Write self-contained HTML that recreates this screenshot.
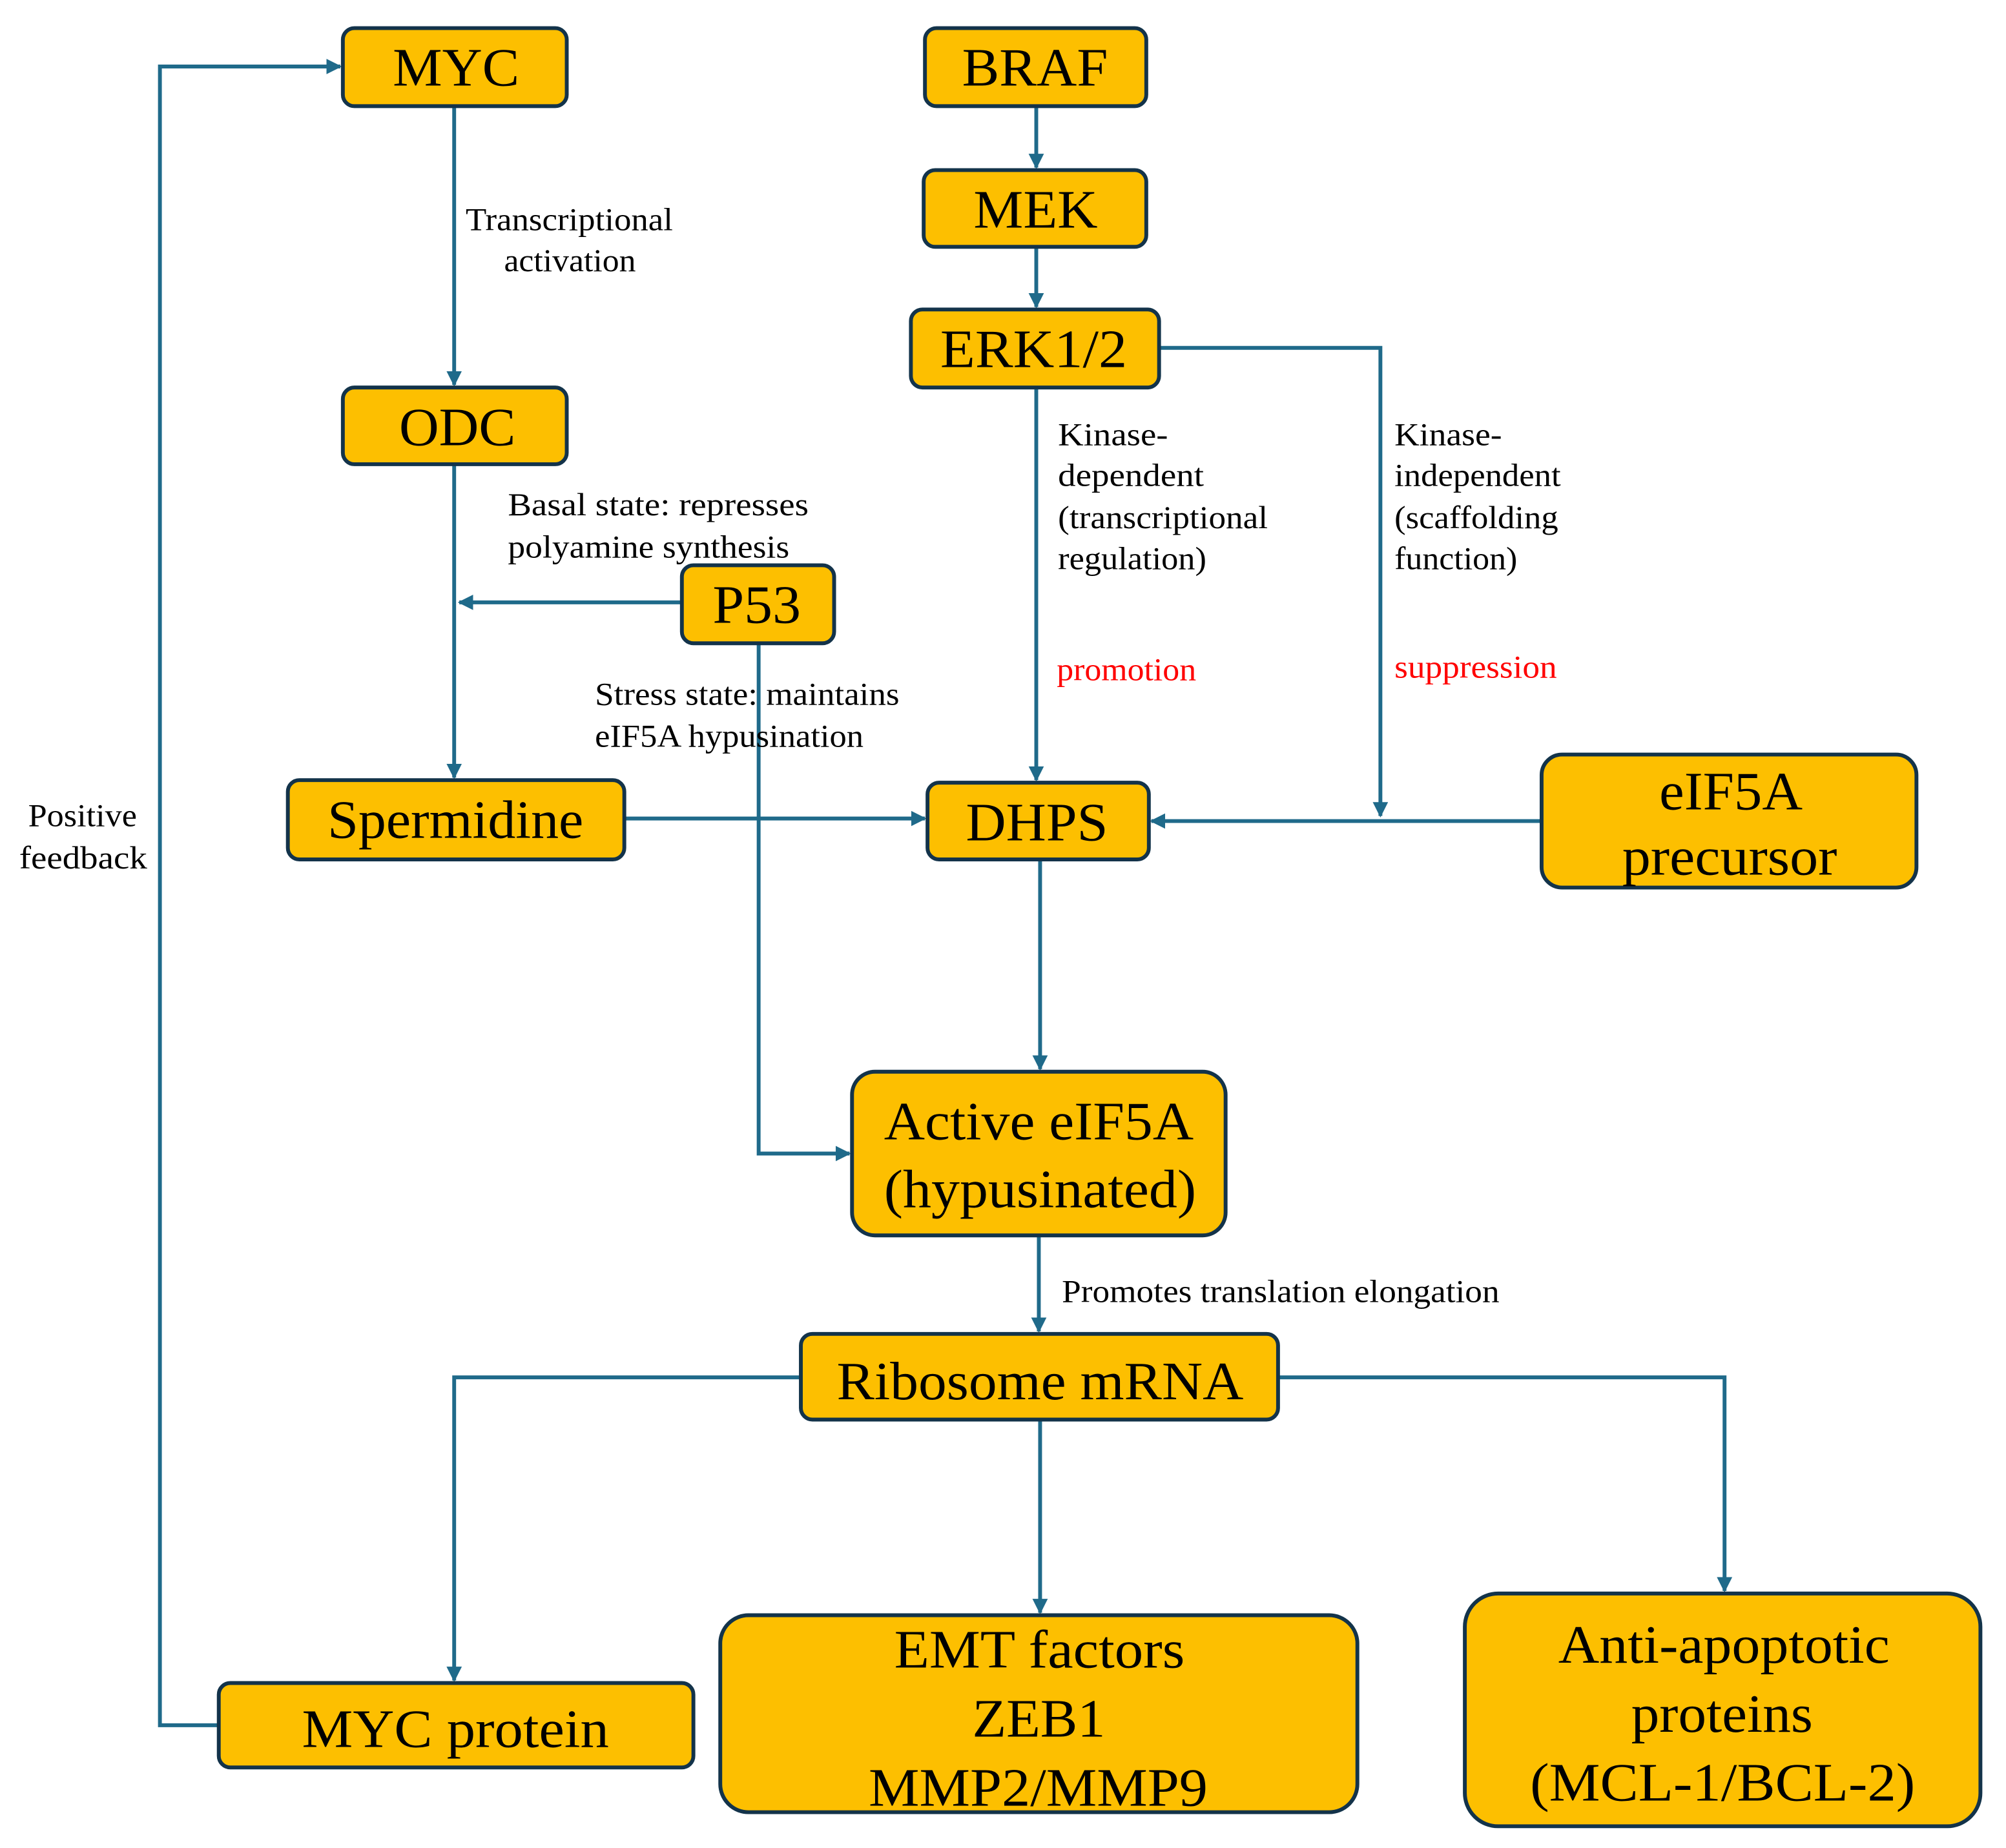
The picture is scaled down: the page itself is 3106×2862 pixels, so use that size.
<!DOCTYPE html>
<html><head><meta charset="utf-8"><style>html,body{margin:0;padding:0;background:#fff}svg{display:block}</style></head>
<body>
<svg width="3106" height="2862" viewBox="0 0 1568 1445" preserveAspectRatio="none" xmlns="http://www.w3.org/2000/svg">
<defs>
<marker id="a" viewBox="0 0 10 10" refX="9" refY="5" markerWidth="4" markerHeight="4" orient="auto" markerUnits="strokeWidth"><path d="M0,0 L10,5 L0,10 z" fill="#1f6a8a"/></marker>
</defs>
<g fill="none" stroke="#1f6a8a" stroke-width="3">
<path d="M171,1349 H125 V52 H266" marker-end="url(#a)"/>
<path d="M355,83 V301" marker-end="url(#a)"/>
<path d="M355,363 V608" marker-end="url(#a)"/>
<path d="M533,471 H359" marker-end="url(#a)"/>
<path d="M593,503 V902 H664" marker-end="url(#a)"/>
<path d="M810,83 V131" marker-end="url(#a)"/>
<path d="M810,193 V240" marker-end="url(#a)"/>
<path d="M810,303 V610" marker-end="url(#a)"/>
<path d="M906,272 H1079 V638" marker-end="url(#a)"/>
<path d="M488,640 H723" marker-end="url(#a)"/>
<path d="M1205,642 H900" marker-end="url(#a)"/>
<path d="M813,672 V836" marker-end="url(#a)"/>
<path d="M812,966 V1041" marker-end="url(#a)"/>
<path d="M626,1077 H355 V1314" marker-end="url(#a)"/>
<path d="M813,1110 V1261" marker-end="url(#a)"/>
<path d="M999,1077 H1348 V1244" marker-end="url(#a)"/>
</g>
<g fill="#fdbf00" stroke="#13334a" stroke-width="3">
<rect x="268" y="22" width="175" height="61" rx="9"/>
<rect x="723" y="22" width="173" height="61" rx="9"/>
<rect x="722" y="133" width="174" height="60" rx="9"/>
<rect x="712" y="242" width="194" height="61" rx="9"/>
<rect x="268" y="303" width="175" height="60" rx="9"/>
<rect x="533" y="442" width="119" height="61" rx="9"/>
<rect x="225" y="610" width="263" height="62" rx="9"/>
<rect x="725" y="612" width="173" height="60" rx="9"/>
<rect x="1205" y="590" width="293" height="104" rx="16"/>
<rect x="666" y="838" width="292" height="128" rx="18"/>
<rect x="626" y="1043" width="373" height="67" rx="9"/>
<rect x="171" y="1316" width="371" height="66" rx="9"/>
<rect x="563" y="1263" width="498" height="154" rx="22"/>
<rect x="1145" y="1246" width="403" height="182" rx="26"/>
</g>
<g font-family="'Liberation Serif', serif" font-size="42" fill="#000">
<text x="307" y="67" textLength="99" lengthAdjust="spacingAndGlyphs">MYC</text>
<text x="752" y="67" textLength="114" lengthAdjust="spacingAndGlyphs">BRAF</text>
<text x="761" y="178" textLength="97" lengthAdjust="spacingAndGlyphs">MEK</text>
<text x="735" y="287" textLength="146" lengthAdjust="spacingAndGlyphs">ERK1/2</text>
<text x="312" y="348" textLength="91" lengthAdjust="spacingAndGlyphs">ODC</text>
<text x="557" y="487" textLength="69" lengthAdjust="spacingAndGlyphs">P53</text>
<text x="256" y="655" textLength="200" lengthAdjust="spacingAndGlyphs">Spermidine</text>
<text x="755" y="657" textLength="111" lengthAdjust="spacingAndGlyphs">DHPS</text>
<text x="1297" y="633" textLength="112" lengthAdjust="spacingAndGlyphs">eIF5A</text>
<text x="1268" y="684" textLength="168" lengthAdjust="spacingAndGlyphs">precursor</text>
<text x="691" y="891" textLength="242" lengthAdjust="spacingAndGlyphs">Active eIF5A</text>
<text x="691" y="944" textLength="244" lengthAdjust="spacingAndGlyphs">(hypusinated)</text>
<text x="654" y="1094" textLength="318" lengthAdjust="spacingAndGlyphs">Ribosome mRNA</text>
<text x="236" y="1366" textLength="240" lengthAdjust="spacingAndGlyphs">MYC protein</text>
<text x="699" y="1304" textLength="227" lengthAdjust="spacingAndGlyphs">EMT factors</text>
<text x="760" y="1358" textLength="104" lengthAdjust="spacingAndGlyphs">ZEB1</text>
<text x="679" y="1412" textLength="265" lengthAdjust="spacingAndGlyphs">MMP2/MMP9</text>
<text x="1218" y="1300" textLength="259" lengthAdjust="spacingAndGlyphs">Anti-apoptotic</text>
<text x="1275" y="1354" textLength="142" lengthAdjust="spacingAndGlyphs">proteins</text>
<text x="1196" y="1408" textLength="301" lengthAdjust="spacingAndGlyphs">(MCL-1/BCL-2)</text>
</g>
<g font-family="'Liberation Serif', serif" font-size="25" fill="#000">
<text x="364" y="180" textLength="162" lengthAdjust="spacingAndGlyphs">Transcriptional</text>
<text x="394" y="212" textLength="103" lengthAdjust="spacingAndGlyphs">activation</text>
<text x="397" y="403" textLength="235" lengthAdjust="spacingAndGlyphs">Basal state: represses</text>
<text x="397" y="436" textLength="220" lengthAdjust="spacingAndGlyphs">polyamine  synthesis</text>
<text x="465" y="551" textLength="238" lengthAdjust="spacingAndGlyphs">Stress state: maintains</text>
<text x="465" y="584" textLength="210" lengthAdjust="spacingAndGlyphs">eIF5A hypusination</text>
<text x="827" y="348" textLength="86" lengthAdjust="spacingAndGlyphs">Kinase-</text>
<text x="827" y="380" textLength="114" lengthAdjust="spacingAndGlyphs">dependent</text>
<text x="827" y="413" textLength="164" lengthAdjust="spacingAndGlyphs">(transcriptional</text>
<text x="827" y="445" textLength="116" lengthAdjust="spacingAndGlyphs">regulation)</text>
<text x="826" y="532" textLength="109" lengthAdjust="spacingAndGlyphs" fill="#ff0000">promotion</text>
<text x="1090" y="348" textLength="84" lengthAdjust="spacingAndGlyphs">Kinase-</text>
<text x="1090" y="380" textLength="130" lengthAdjust="spacingAndGlyphs">independent</text>
<text x="1090" y="413" textLength="128" lengthAdjust="spacingAndGlyphs">(scaffolding</text>
<text x="1090" y="445" textLength="96" lengthAdjust="spacingAndGlyphs">function)</text>
<text x="1090" y="530" textLength="127" lengthAdjust="spacingAndGlyphs" fill="#ff0000">suppression</text>
<text x="22" y="646" textLength="85" lengthAdjust="spacingAndGlyphs">Positive</text>
<text x="15" y="679" textLength="100" lengthAdjust="spacingAndGlyphs">feedback</text>
<text x="830" y="1018" textLength="342" lengthAdjust="spacingAndGlyphs">Promotes translation elongation</text>
</g>
</svg>
</body></html>
